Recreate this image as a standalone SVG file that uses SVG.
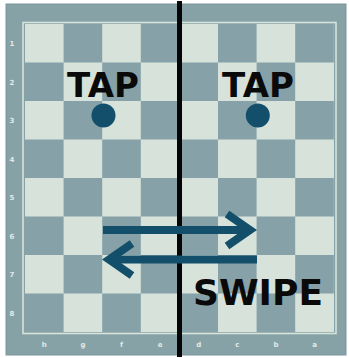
<svg xmlns="http://www.w3.org/2000/svg" width="349" height="358" viewBox="0 0 349 358">
<style>
.lt{fill:#d7e3da}
.dk{fill:#86a1a7}
.lbl{font-family:"DejaVu Sans",sans-serif;font-size:7px;fill:#e2e9ea;text-anchor:middle;font-weight:bold}
.big{font-family:"DejaVu Sans",sans-serif;font-weight:bold;fill:#0a0a0a;text-anchor:middle}
.arr{fill:none;stroke:#134f6b;stroke-width:8;stroke-linecap:butt;stroke-linejoin:miter}
.dot{fill:#134f6b}
</style>
<rect width="349" height="358" fill="#ffffff"/>
<g id="board">
<rect x="6" y="4" width="340" height="351" fill="#86a2a7" stroke="#7a969c" stroke-width="1"/>
<rect x="23" y="22.5" width="313" height="311" fill="none" stroke="#d7e3da" stroke-width="1.6"/>
<rect class="lt" x="25" y="24" width="309" height="308"/>
<g class="dk">
<rect x="63.6" y="24" width="38.6" height="38.5"/><rect x="140.8" y="24" width="38.6" height="38.5"/><rect x="218" y="24" width="38.6" height="38.5"/><rect x="295.2" y="24" width="38.6" height="38.5"/>
<rect x="25" y="62.5" width="38.6" height="38.5"/><rect x="102.2" y="62.5" width="38.6" height="38.5"/><rect x="179.4" y="62.5" width="38.6" height="38.5"/><rect x="256.6" y="62.5" width="38.6" height="38.5"/>
<rect x="63.6" y="101" width="38.6" height="38.5"/><rect x="140.8" y="101" width="38.6" height="38.5"/><rect x="218" y="101" width="38.6" height="38.5"/><rect x="295.2" y="101" width="38.6" height="38.5"/>
<rect x="25" y="139.5" width="38.6" height="38.5"/><rect x="102.2" y="139.5" width="38.6" height="38.5"/><rect x="179.4" y="139.5" width="38.6" height="38.5"/><rect x="256.6" y="139.5" width="38.6" height="38.5"/>
<rect x="63.6" y="178" width="38.6" height="38.5"/><rect x="140.8" y="178" width="38.6" height="38.5"/><rect x="218" y="178" width="38.6" height="38.5"/><rect x="295.2" y="178" width="38.6" height="38.5"/>
<rect x="25" y="216.5" width="38.6" height="38.5"/><rect x="102.2" y="216.5" width="38.6" height="38.5"/><rect x="179.4" y="216.5" width="38.6" height="38.5"/><rect x="256.6" y="216.5" width="38.6" height="38.5"/>
<rect x="63.6" y="255" width="38.6" height="38.5"/><rect x="140.8" y="255" width="38.6" height="38.5"/><rect x="218" y="255" width="38.6" height="38.5"/><rect x="295.2" y="255" width="38.6" height="38.5"/>
<rect x="25" y="293.5" width="38.6" height="38.5"/><rect x="102.2" y="293.5" width="38.6" height="38.5"/><rect x="179.4" y="293.5" width="38.6" height="38.5"/><rect x="256.6" y="293.5" width="38.6" height="38.5"/>
</g>
<g class="lbl">
<text x="12" y="46">1</text><text x="12" y="85">2</text><text x="12" y="123">3</text><text x="12" y="162">4</text><text x="12" y="200">5</text><text x="12" y="239">6</text><text x="12" y="277">7</text><text x="12" y="316">8</text>
<text x="44.3" y="347">h</text><text x="82.9" y="347">g</text><text x="121.5" y="347">f</text><text x="160.1" y="347">e</text><text x="198.7" y="347">d</text><text x="237.3" y="347">c</text><text x="275.9" y="347">b</text><text x="314.5" y="347">a</text>
</g>
</g>
<g id="divider">
<rect x="177" y="1" width="5" height="356" fill="#050505"/>
</g>
<g id="tap-left">
<text class="big" x="103" y="97" font-size="34">TAP</text>
<circle class="dot" cx="103.5" cy="115.5" r="12"/>
</g>
<g id="tap-right">
<text class="big" x="258" y="97" font-size="34">TAP</text>
<circle class="dot" cx="257.8" cy="115.5" r="12"/>
</g>
<g id="connectors">
<path class="arr" d="M103,230 H250"/>
<path class="arr" d="M227,214 L250,230 L227,246"/>
<path class="arr" d="M257,259.5 H109"/>
<path class="arr" d="M132,243.5 L109,259.5 L132,275.5"/>
</g>
<g id="swipe">
<text class="big" x="258" y="305" font-size="36">SWIPE</text>
</g>
</svg>
